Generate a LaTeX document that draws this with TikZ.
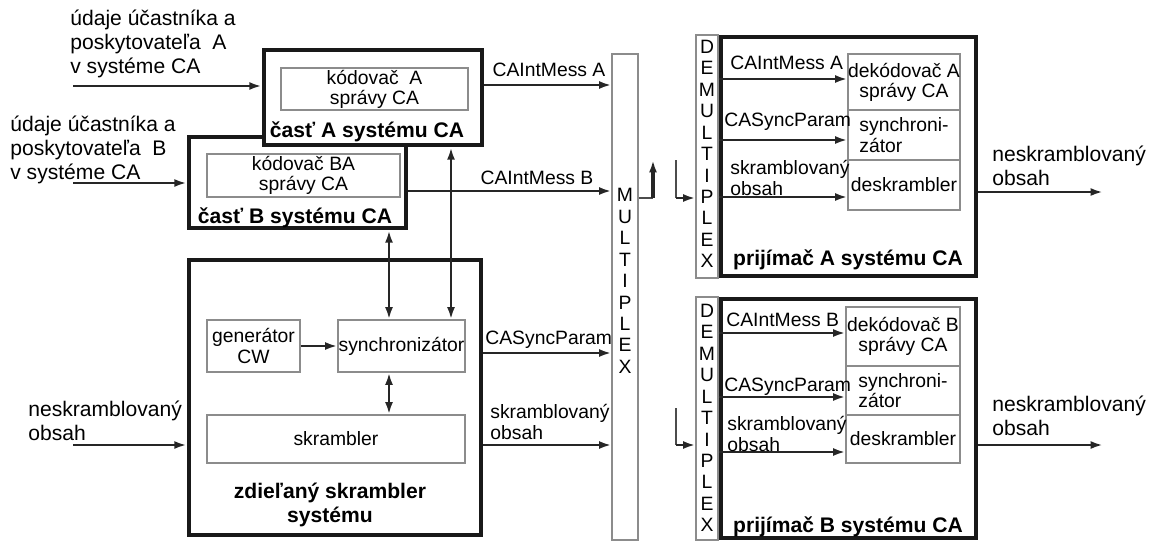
\documentclass[tikz,border=0pt]{standalone}
\usepackage{fontspec}
\setmainfont{Liberation Sans}
\usetikzlibrary{arrows.meta, positioning, calc}

\tikzset{
  pbox/.style 2 args={minimum width=#1*0.02cm, minimum height=#2*0.02cm},
  thinbox/.style={draw=black!45, line width=0.6pt, fill=white, inner sep=0pt, align=center, font=\fontsize{11}{11.5}\selectfont},
  bigbox/.style={draw=black!90, line width=2.6pt, fill=white, inner sep=0pt},
  title/.style={font=\fontsize{12}{13.6}\selectfont\bfseries, align=center, inner sep=0pt},
  lbl/.style={font=\fontsize{11}{11.5}\selectfont, align=left, inner sep=0pt},
  biglbl/.style={font=\fontsize{12}{13.6}\selectfont, align=left, inner sep=0pt},
  letters/.style={font=\fontsize{11}{12.2}\selectfont, align=center, inner sep=0pt},
  arr/.style={-{Latex[length=7pt,width=4.5pt]}, line width=1.4pt, draw=black!85},
  darr/.style={{Latex[length=7pt,width=4.5pt]}-{Latex[length=7pt,width=4.5pt]}, line width=1.4pt, draw=black!85},
  thinline/.style={line width=0.6pt, draw=black!70},
}

\begin{document}
\begin{tikzpicture}[x=0.02cm, y=-0.02cm]
  \useasboundingbox (0,0) rectangle (1152,542);

  % Part B and part A of the CA system
  \node[bigbox, pbox={217}{91}] (partB) at (297.5,182.5) {};
  \node[thinbox, pbox={193}{43}] (codB) at (303.5,175.5) {kódovač BA\\správy CA};
  \node[title] (titleB) at (295,218) {časť B systému CA};

  \node[bigbox, pbox={218}{95}] (partA) at (373,97.5) {};
  \node[thinbox, pbox={187}{42}] (codA) at (374.5,89) {kódovač~~A\\správy CA};
  \node[title] (titleA) at (367,132) {časť A systému CA};

  % Shared scrambler
  \node[bigbox, pbox={292}{275}] (shared) at (335,397.5) {};
  \node[thinbox, pbox={93}{52}] (gen) at (253.5,346) {generátor\\CW};
  \node[thinbox, pbox={127}{52}] (sync) at (401.5,346) {synchronizátor};
  \node[thinbox, pbox={258}{48}] (scr) at (336,439) {skrambler};
  \node[title] (titleS) at (330,505) {zdieľaný skrambler\\systému};

  % Multiplex
  \node[thinbox, pbox={26}{486}] (mux) at (625,297) {};
  \node[letters] (muxTxt) at (625,281) {M\\U\\L\\T\\I\\P\\L\\E\\X};

  % Receiver A
  \node[thinbox, pbox={22}{243}] (demuxA) at (707,156.5) {};
  \node[letters] (demuxATxt) at (707,154) {D\\E\\M\\U\\L\\T\\I\\P\\L\\E\\X};
  \node[bigbox, pbox={255}{239}] (recA) at (848.5,156.5) {};
  \node[thinbox, pbox={112}{56}] (decA) at (904,82) {dekódovač A\\správy CA};
  \node[thinbox, pbox={112}{50}, align=left] (synA) at (904,135) {synchroni-\\zátor};
  \node[thinbox, pbox={112}{50}] (descrA) at (904,185) {deskrambler};
  \node[title] (titleRA) at (848,260) {prijímač A systému CA};

  % Receiver B
  \node[thinbox, pbox={22}{243}] (demuxB) at (707,418.5) {};
  \node[letters] (demuxBTxt) at (707,418) {D\\E\\M\\U\\L\\T\\I\\P\\L\\E\\X};
  \node[bigbox, pbox={255}{239}] (recB) at (848.5,418.5) {};
  \node[thinbox, pbox={114}{59}] (decB) at (903,336.5) {dekódovač B\\správy CA};
  \node[thinbox, pbox={114}{49}, align=left] (synB) at (903,390.5) {synchroni-\\zátor};
  \node[thinbox, pbox={114}{48}] (descrB) at (903,439) {deskrambler};
  \node[title] (titleRB) at (848,527) {prijímač B systému CA};

  % Inputs
  \coordinate (inA) at (73,86);
  \coordinate (inB) at (73,183);
  \coordinate (inS) at (73,445);
  \node[biglbl, anchor=west] (txtA) at (70,44) {údaje účastníka a\\poskytovateľa~~A\\v systéme CA};
  \node[biglbl, anchor=west] (txtB) at (10,150) {údaje účastníka a\\poskytovateľa~~B\\v systéme CA};
  \node[biglbl, anchor=west] (txtS) at (28,421) {neskramblovaný\\obsah};
  \draw[arr] (inA) -- (inA -| partA.west);
  \draw[arr] (inB) -- (inB -| partB.west);
  \draw[arr] (inS) -- (inS -| shared.west);

  % Inside the shared scrambler
  \draw[arr] (gen) -- (sync);
  \draw[darr] (sync.north -| 451,0) -- (partA.south -| 451,0);
  \draw[darr] (sync.north -| 389,0) -- (partB.south -| 389,0);
  \draw[darr] (sync.south -| 389,0) -- (scr.north -| 389,0);

  % Into the multiplex
  \coordinate (lnA) at (0,85);
  \coordinate (lnB) at (0,191);
  \coordinate (lnSync) at (0,353);
  \coordinate (lnScr) at (0,445);
  \draw[arr] (partA.east |- lnA) -- (mux.west |- lnA);
  \draw[arr] (partB.east |- lnB) -- (mux.west |- lnB);
  \draw[arr] (shared.east |- lnSync) -- (mux.west |- lnSync);
  \draw[arr] (shared.east |- lnScr) -- (mux.west |- lnScr);
  \node[lbl] (lblA) at (549,70) {CAIntMess A};
  \node[lbl] (lblB) at (537,178) {CAIntMess B};
  \node[lbl, anchor=west] (lblSync) at (485,340) {CASyncParam};
  \node[lbl, anchor=west] (lblScr) at (490,422) {skramblovaný\\obsah};

  % Out of the multiplex
  \coordinate (muxOut) at (653,198);
  \coordinate (muxUp) at (653,160);
  \coordinate (feedA) at (676,160);
  \coordinate (feedB) at (676,408);
  \draw[thinline] (mux.east |- muxOut) -- (muxOut);
  \draw[arr, line width=1.8pt] (muxOut) -- (muxUp);
  \draw[thinline] (feedA) -- (feedA |- muxOut);
  \draw[arr] (feedA |- muxOut) -- (demuxA.west |- muxOut);
  \draw[thinline] (feedB) -- (feedB |- lnScr);
  \draw[arr] (feedB |- lnScr) -- (demuxB.west |- lnScr);

  % Receiver A connectors
  \coordinate (rA1) at (0,79);
  \coordinate (rA2) at (0,140);
  \coordinate (rA3) at (0,197);
  \draw[arr] (recA.west |- rA1) -- (decA.west |- rA1);
  \draw[arr] (recA.west |- rA2) -- (synA.west |- rA2);
  \draw[arr] (recA.west |- rA3) -- (descrA.west |- rA3);
  \node[lbl, anchor=west] (lblRA1) at (730,63) {CAIntMess A};
  \node[lbl, anchor=west] (lblRA2) at (724,122) {CASyncParam};
  \node[lbl, anchor=west] (lblRA3) at (730,178) {skramblovaný\\obsah};

  % Receiver B connectors
  \coordinate (rB1) at (0,333);
  \coordinate (rB2) at (0,397);
  \coordinate (rB3) at (0,452);
  \draw[arr] (recB.west |- rB1) -- (decB.west |- rB1);
  \draw[arr] (recB.west |- rB2) -- (synB.west |- rB2);
  \draw[arr] (recB.west |- rB3) -- (descrB.west |- rB3);
  \node[lbl, anchor=west] (lblRB1) at (726,320) {CAIntMess B};
  \node[lbl, anchor=west] (lblRB2) at (724,387) {CASyncParam};
  \node[lbl, anchor=west] (lblRB3) at (727,434) {skramblovaný\\obsah};

  % Outputs
  \coordinate (outA) at (1103,192);
  \coordinate (outB) at (1103,445);
  \draw[arr] (recA.east |- outA) -- (outA);
  \draw[arr] (recB.east |- outB) -- (outB);
  \node[biglbl, anchor=west] (txtOutA) at (992,166) {neskramblovaný\\obsah};
  \node[biglbl, anchor=west] (txtOutB) at (992,416) {neskramblovaný\\obsah};
\end{tikzpicture}
\end{document}
